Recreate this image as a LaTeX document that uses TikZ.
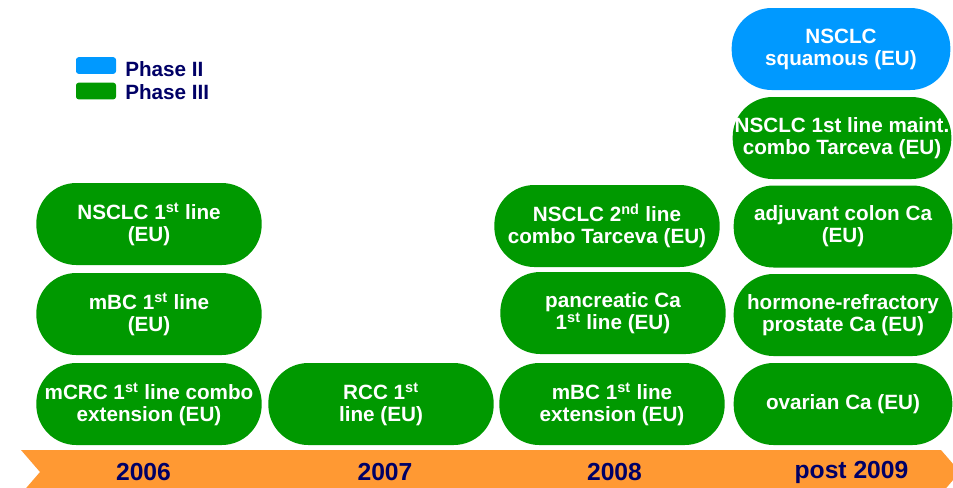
\documentclass[tikz,border=0pt]{standalone}
\usepackage{fontspec}
\setmainfont{Liberation Sans}
\usepackage{tikz}

\definecolor{PhaseTwo}{HTML}{0099FF}
\definecolor{PhaseThree}{HTML}{009900}
\definecolor{TimeBand}{HTML}{FF9933}
\definecolor{Navy}{HTML}{000066}

\tikzset{
	trial/.style={fill=PhaseThree, rounded corners=30pt, minimum width=169pt, minimum height=61.5pt, inner sep=0pt, text=white, align=center, font=\fontsize{15.5}{16.5}\selectfont\bfseries},
	trialII/.style={trial, fill=PhaseTwo},
	late/.style={minimum width=164pt},
	yearlabel/.style={text=Navy, font=\fontsize{18.5}{20}\selectfont\bfseries},
	keybox/.style={rounded corners=2pt, minimum width=30pt, minimum height=12.5pt, inner sep=0pt},
	keylabel/.style={text=Navy, anchor=west, inner sep=0pt, font=\fontsize{15.5}{17}\selectfont\bfseries}
}

\begin{document}
\begin{tikzpicture}[x=0.75pt, y=-0.75pt]
		\clip (0, 0) rectangle (953, 487) ;
		\fill[white] (0, 0) rectangle (953, 487) ;
\fill[TimeBand] (21, 450) -- (941, 450) -- (960, 472) -- (941, 494) -- (21, 494) -- (40, 472) -- cycle ; % time band

\node[keybox, fill=PhaseTwo] (KeyII) at (96, 65.5) {}; % legend
\node[keybox, fill=PhaseThree] (KeyIII) at (96, 91) {}; % legend
\node[keylabel] (KeyIIText) at (125, 69.5) {Phase II};
\node[keylabel] (KeyIIIText) at (125, 92.5) {Phase III};

\node[trial] (A1) at (149, 224) {NSCLC 1\textsuperscript{st} line\\(EU)}; % 2006
\node[trial] (A2) at (149, 314) {mBC 1\textsuperscript{st} line\\(EU)}; % 2006
\node[trial] (A3) at (149, 404) {mCRC 1\textsuperscript{st} line combo\\extension (EU)}; % 2006

\node[trial] (B3) at (381, 404) {RCC 1\textsuperscript{st}\\line (EU)}; % 2007

\node[trial] (C1) at (607, 226) {NSCLC 2\textsuperscript{nd} line\\combo Tarceva (EU)}; % 2008
\node[trial] (C2) at (613, 313) {pancreatic Ca\\1\textsuperscript{st} line (EU)}; % 2008
\node[trial] (C3) at (612, 404) {mBC 1\textsuperscript{st} line\\extension (EU)}; % 2008

\node[trialII, late] (D0) at (841, 49) {NSCLC\\squamous (EU)}; % post 2009
\node[trial, late] (D1) at (842, 138) {NSCLC 1st line maint.\\combo Tarceva (EU)}; % post 2009
\node[trial, late] (D2) at (843, 226.5) {adjuvant colon Ca\\(EU)}; % post 2009
\node[trial, late] (D3) at (843, 315) {hormone-refractory\\prostate Ca (EU)}; % post 2009
\node[trial, late] (D4) at (843, 404) {ovarian Ca (EU)}; % post 2009

\node[yearlabel] (Y2006) at (143.5, 472) {2006};
\node[yearlabel] (Y2007) at (385, 472) {2007};
\node[yearlabel] (Y2008) at (614.5, 472) {2008};
\node[yearlabel] (Y2009) at (851.5, 472) {post 2009};
		\end{tikzpicture}
\end{document}
